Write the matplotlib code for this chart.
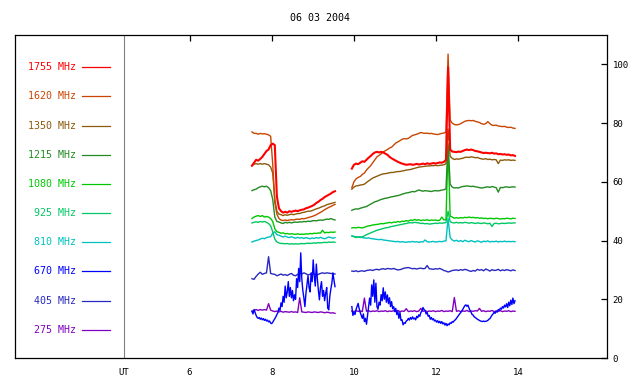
import numpy as np
import matplotlib
matplotlib.use("Agg")
import matplotlib.pyplot as plt

# ---------------- data ----------------
title = "06 03 2004"
freqs = ["1755 MHz", "1620 MHz", "1350 MHz", "1215 MHz", "1080 MHz",
         "925 MHz", "810 MHz", "670 MHz", "405 MHz", "275 MHz"]
colors = ["#ff0000", "#c84600", "#8c5a0a", "#228b22", "#00c800",
          "#00c864", "#00c0c0", "#0000ff", "#2828c0", "#8000c0"]
xtick_vals = [6, 8, 10, 12, 14]
xtick_labels = ["6", "8", "10", "12", "14"]
ytick_vals = [0, 20, 40, 60, 80, 100]

seg1_range = (7.52, 9.54)
seg2_range = (9.95, 13.92)

# segment 1 (about 7.5 - 9.5 UT)
s1 = {
"1755 MHz": [65.5, 66.5, 67.5, 67.2, 67.8, 68.5, 69.5, 70.5, 71, 72.5,
             73, 72.5, 55, 51, 50, 49.5, 49.8, 49.5, 50, 49.8,
             50, 50.2, 50, 50.3, 50.5, 50.6, 51, 51.2, 51.5, 51.8,
             52.2, 52.8, 53.2, 53.8, 54.2, 54.8, 55.2, 55.6, 56, 56.5,
             56.8],
"1620 MHz": [77, 76.5, 76.5, 76.2, 76.5, 76.3, 76.4, 76.2, 76.0, 75.5,
             66, 53, 49, 47.5, 47, 46.8, 47.0, 46.8, 47.0, 47.1,
             47.0, 47.2, 47.3, 47.2, 47.5, 47.4, 47.6, 47.8, 48.0, 48.2,
             48.5, 48.8, 49.2, 49.6, 50.0, 50.5, 50.9, 51.3, 51.6, 52.0,
             52.3],
"1350 MHz": [65.5, 66, 66.2, 66, 66.2, 66, 66.2, 66, 65.8, 65,
             63, 54, 50, 49, 48.8, 48.5, 48.8, 48.6, 48.8, 49,
             48.8, 49, 49.2, 49.2, 49.5, 49.6, 49.8, 50, 50, 50.2,
             50.5, 50.8, 51, 51.3, 51.6, 51.8, 52.2, 52.4, 52.6, 52.8,
             53],
"1215 MHz": [57, 57.3, 57.5, 58, 58.3, 58.5, 58.3, 58.5, 58, 57,
             54, 48, 46.5, 46.3, 46, 45.8, 46.2, 46, 46.2, 46,
             46.2, 46.3, 46.2, 46.4, 46.3, 46.5, 46.4, 46.6, 46.5, 46.7,
             46.8, 46.7, 46.9, 47, 46.9, 47.1, 47.3, 47.2, 47.5, 47.2,
             47],
"1080 MHz": [47.5, 48, 48.3, 48.5, 48.2, 48.5, 48, 48.2, 48, 47.5,
             46.5, 44, 43, 42.8, 42.5, 42.6, 42.3, 42.4, 42.2, 42.3,
             42.2, 42.1, 42.3, 42.1, 42.2, 42.1, 42.3, 42.2, 42.4, 42.3,
             42.5, 42.4, 42.6, 42.5, 43.5, 42.6, 42.8, 42.7, 42.9, 42.8,
             42.9],
"925 MHz": [46, 46.2, 46.4, 46.2, 46.5, 46.3, 46.5, 46.2, 45.8, 45,
            43, 40.5, 39.5, 39.2, 39, 39, 38.9, 39, 38.8, 38.9,
            38.8, 38.9, 38.8, 38.9, 39, 38.9, 39, 39.1, 39, 39.1,
            39.2, 39.1, 39.3, 39.2, 39.3, 39.4, 39.3, 39.5, 39.4, 39.5,
            39.4],
"810 MHz": [39.5, 39.8, 40, 40.2, 40.5, 40.8, 40.6, 41, 41.2, 41.3,
            42.5, 43, 42, 41.8, 41.5, 41.2, 41.5, 41.2, 41, 41.3,
            41, 40.8, 41.1, 40.8, 41, 40.7, 41, 40.8, 40.6, 40.9,
            40.7, 41, 40.8, 41.1, 40.8, 40.6, 40.9, 41.2, 41, 40.8,
            41],
"670 MHz": [16, 15, 16.5, 15.5, 14.5, 13.8, 13.5, 13.8, 13.2, 13.6,
            13, 13.4, 12.8, 13.2, 12.6, 12.9, 12.3, 12.6, 11.9, 11.7,
            12.2, 12.8, 13.4, 14.0, 14.8, 15.5, 17.0, 16.2, 18.8, 17.5,
            21.0, 19.0, 24.5, 20.5, 22.5, 26.0, 21.0, 24.0, 20.5, 23.0,
            19.5, 21.5, 20.0, 27.0, 24.0, 30.5, 26.0, 35.8, 27.0, 23.0,
            20.5, 17.5, 22.0, 25.0, 28.0, 24.0, 22.5, 29.0, 26.0, 33.4,
            28.0, 24.5, 32.0, 27.0, 23.0, 19.8, 24.0, 26.0, 21.0, 23.0,
            19.5, 22.0, 24.0, 17.0, 16.4, 21.0, 23.5, 25.5, 29.0, 26.5,
            24.3],
"405 MHz": [27, 26.8, 27.8, 28.6, 29.2, 28.5, 28.8, 29, 34.5, 28.8,
            28.6, 28.5, 28, 28.3, 28.6, 28.2, 28.4, 28.1, 28.5, 28.8,
            28.2, 28, 28.5, 28.8, 28.6, 29, 28.7, 28.3, 28.5, 28.8,
            28.6, 28.2, 28.5, 28.8, 29, 28.8, 29, 28.9, 28.8, 28.7,
            28.6],
"275 MHz": [15.8, 16.2, 16.5, 16.2, 16.5, 16.3, 16.5, 16.3, 18.5, 16.3,
            16, 15.8, 16, 15.7, 15.9, 15.6, 15.8, 15.7, 15.6, 15.8,
            15.6, 15.7, 15.5, 20.5, 15.7, 15.6, 15.5, 15.7, 15.6, 15.5,
            15.7, 15.6, 15.5, 15.7, 15.6, 15.4, 15.6, 15.5, 15.3, 15.4,
            15.2],
}

# segment 2 (about 10 - 13.9 UT)
s2 = {
"1755 MHz": [64.5, 65.8, 66.2, 66.0, 66.5, 67, 66.8, 67.5, 68.2, 68.8,
             69.5, 70, 70.2, 70, 70.2, 70, 69.6, 69.2, 68.5, 68,
             67.6, 67.2, 66.8, 66.5, 66.2, 66, 65.8, 65.9, 66, 65.8,
             65.9, 66.1, 65.9, 66, 66.2, 66, 66.3, 66.1, 66.2, 66.4,
             66.2, 66.4, 66.6, 66.5, 66.8, 67.5, 99, 71, 70.3, 70.2,
             70.1, 70.3, 70.2, 70.5, 70.8, 71, 70.8, 71, 70.8, 70.5,
             70.4, 70.2, 70, 69.8, 69.9, 69.8, 69.7, 69.9, 69.6, 69.7,
             69.4, 69.5, 69.3, 69.4, 69.2, 69.3, 69.0, 69.1, 68.8],
"1620 MHz": [58, 60, 61, 61.5, 61.8, 62.5, 63, 64, 64.8, 65.5,
             66.5, 67.5, 68.5, 69, 69.5, 70.2, 70.6, 71, 71.5, 71.8,
             72.5, 73.2, 73.6, 74, 74.5, 74.7, 74.6, 74.8, 75.3, 75.8,
             76, 76.2, 76.5, 76.8, 76.6, 76.5, 76.6, 76.4, 76.5, 76.3,
             76.2, 76.1, 76.3, 76.5, 76.6, 77, 103.5, 81, 80, 79.5,
             79.4, 79.5, 79.8, 80.2, 80.6, 80.8, 80.9, 80.8, 80.9, 80.6,
             80.4, 80.2, 79.8, 79.6, 79.8, 80.5, 79.8, 79.3, 79.2, 79.3,
             79.0, 78.9, 78.8, 78.9, 78.6, 78.5, 78.6, 78.3, 78.2],
"1350 MHz": [57.5, 58.2, 58.6, 58.7, 58.9, 59, 59.2, 59.8, 60.3, 60.8,
             61.3, 61.6, 61.9, 62.2, 62.5, 62.7, 62.8, 62.9, 63.1, 63.2,
             63.2, 63.4, 63.5, 63.5, 63.7, 63.8, 64, 64.1, 64.2, 64.4,
             64.6, 64.8, 65, 65.1, 65.2, 65.3, 65.4, 65.4, 65.5, 65.5,
             65.6, 65.5, 65.6, 65.7, 65.8, 66.2, 78, 68.7, 68, 67.6,
             67.8, 67.7, 67.9, 68, 68.3, 68.4, 68.3, 68.5, 68.4, 68.2,
             68.3, 68, 67.8, 67.7, 67.9, 67.6, 67.7, 67.5, 67.6, 67.5,
             66.2, 67.4, 67.3, 67.5, 67.4, 67.5, 67.3, 67.4, 67.3],
"1215 MHz": [50.3, 50.6, 50.8, 50.7, 51, 51.2, 51.4, 51.6, 52, 52.4,
             52.8, 53.2, 53.4, 53.7, 54, 54.2, 54.4, 54.5, 54.7, 54.9,
             55, 55.2, 55.3, 55.5, 55.8, 56, 56.2, 56.3, 56.5, 56.7,
             56.6, 56.9, 57.2, 57, 56.8, 57, 56.9, 56.8, 56.7, 56.9,
             57, 56.9, 57, 57.2, 57.3, 57.6, 73, 59.2, 58.2, 57.9,
             58, 57.9, 58.2, 58.4, 58.5, 58.6, 58.5, 58.4, 58.5, 58.3,
             58.2, 58.0, 57.9, 58.0, 58.2, 58.3, 58.1, 58.4, 58.2, 58.0,
             56.5, 58.1, 58.0, 58.2, 58.3, 58.1, 58.2, 58.3, 58.2],
"1080 MHz": [44.3, 44.4, 44.3, 44.5, 44.4, 44.3, 44.5, 44.8, 45.0, 45.1,
             45.3, 45.4, 45.5, 45.6, 45.8, 45.7, 45.9, 46.0, 46.2, 46.0,
             46.3, 46.2, 46.5, 46.3, 46.6, 46.5, 46.8, 46.6, 47.0, 46.8,
             47.2, 46.9, 47.1, 46.8, 47.0, 46.9, 47.1, 46.8, 47.0, 46.9,
             47.0, 46.8, 46.9, 48.0, 47.0, 47.2, 72, 48.3, 48.0, 47.6,
             47.8, 47.6, 47.8, 47.7, 47.9, 47.8, 48.0, 47.8, 47.9, 47.7,
             47.8, 47.6, 47.7, 47.5, 47.6, 47.4, 47.6, 47.5, 47.4, 47.6,
             47.5, 47.3, 47.5, 47.4, 47.6, 47.5, 47.4, 47.6, 47.5],
"925 MHz": [41.6, 41.3, 41.0, 41.2, 41.0, 41.3, 41.6, 42.0, 42.3, 42.6,
            42.9, 43.2, 43.5, 43.7, 43.9, 44.1, 44.3, 44.4, 44.6, 44.8,
            44.9, 45.1, 45.2, 45.4, 45.5, 45.7, 45.8, 46.0, 46.1, 46.0,
            46.2, 46.1, 46.0, 45.8, 45.9, 45.7, 45.8, 45.6, 45.7, 45.8,
            45.9, 45.8, 46.0, 45.9, 46.0, 46.1, 50, 46.4, 46.1, 46.0,
            46.2, 46.0, 46.1, 46.0, 46.2, 46.1, 45.9, 46.1, 46.0, 45.8,
            46.0, 45.9, 45.8, 46.0, 45.9, 45.7, 45.9, 44.8, 45.8, 45.9,
            45.7, 45.8, 45.9, 45.8, 45.9, 46.0, 45.9, 46.0, 46.0],
"810 MHz": [41.6, 41.4, 41.3, 41.2, 41.3, 41.0, 40.9, 40.8, 40.9, 40.7,
            40.6, 40.5, 40.4, 40.3, 40.4, 40.2, 40.1, 40.0, 39.9, 39.8,
            39.7, 39.6, 39.7, 39.5, 39.6, 39.5, 39.4, 39.6, 39.5, 39.7,
            39.5, 39.6, 39.4, 39.6, 39.5, 40.2, 39.6, 39.5, 39.6, 39.7,
            39.5, 39.6, 39.7, 39.6, 39.8, 39.9, 47.5, 41.0, 40.2, 39.8,
            40.1, 39.7, 40.0, 39.6, 40.1, 39.8, 39.6, 40.0, 39.7, 39.5,
            39.9, 39.7, 39.4, 39.8, 39.6, 39.9, 39.5, 39.7, 39.6, 39.8,
            39.5, 39.7, 39.6, 39.8, 39.6, 39.7, 39.6, 39.7, 39.6],
"670 MHz": [17.5, 14.5, 15.5, 14.8, 16.5, 17.5, 18.6, 16.8, 15.5, 14.5,
            13.5, 15.0, 12.4, 13.5, 11.5, 14.5, 17.5, 20.4, 18.0, 24.9,
            21.0, 26.6, 19.0, 25.5, 17.5, 16.6, 19.0, 18.0, 21.6, 19.5,
            23.9, 20.0, 22.5, 19.0, 21.5, 18.5, 20.5, 17.5, 19.2, 16.8,
            17.5, 15.8, 16.9, 14.8, 15.8, 13.5, 15.5, 12.8, 13.0, 11.3,
            12.0, 11.8, 12.6, 12.8, 13.5, 12.9, 13.8, 13.2, 14.0, 13.3,
            13.6, 13.0, 14.2, 13.7, 14.7, 14.2, 15.5, 16.0, 17.2, 16.5,
            16.2, 15.0, 15.5, 14.2, 14.5, 13.2, 13.8, 13.0, 13.4, 12.6,
            12.9, 12.2, 12.7, 12.0, 12.5, 11.8, 12.4, 11.6, 12.0, 11.2,
            11.8, 11.0, 11.6, 11.3, 12.0, 11.8, 12.4, 12.2, 12.8, 13.0,
            13.5, 14.0, 14.5, 15.0, 15.4, 16.0, 16.5, 17.2, 17.8, 18.1,
            17.6, 18.0, 17.0, 16.2, 15.6, 14.8, 14.6, 14.0, 13.8, 13.5,
            13.2, 13.0, 12.8, 12.6, 12.5, 12.4, 12.6, 12.4, 12.5, 12.6,
            12.8, 13.2, 13.4, 14.0, 14.6, 15.0, 15.6, 15.2, 16.0, 15.6,
            16.5, 16.2, 17.0, 16.6, 17.5, 17.0, 18.0, 17.4, 18.5, 17.2,
            19.0, 17.8, 19.7, 18.2, 20.4, 18.5, 19.5],
"405 MHz": [29.6, 29.5, 29.7, 29.4, 29.6, 29.7, 29.5, 29.8, 29.9, 30.0,
            29.8, 30.1, 30.2, 30.0, 30.3, 30.4, 30.2, 30.5, 30.4, 30.3,
            30.5, 30.2, 30.0, 30.1, 30.3, 30.6, 30.7, 30.8, 30.6, 30.4,
            30.5, 30.3, 30.5, 30.6, 30.4, 30.5, 31.5, 30.4, 30.3, 30.2,
            30.4, 30.3, 30.5, 30.2, 29.8, 29.6, 29.3, 29.5, 29.8, 29.9,
            30.0, 29.8, 30.1, 29.9, 30.2, 30.0, 29.7, 29.5, 29.8, 29.6,
            30.2, 29.9, 30.1, 29.7, 30.3, 30.0, 29.6, 30.1, 29.8, 29.9,
            30.2, 29.7, 30.0, 29.8, 30.1, 29.9, 29.7, 30.0, 29.8],
"275 MHz": [16.0, 15.8, 16.1, 15.9, 16.0, 15.8, 20.4, 15.9, 16.1, 15.8,
            16.0, 15.9, 16.1, 15.8, 16.0, 15.9, 16.1, 15.8, 16.0, 15.9,
            16.1, 15.9, 16.2, 15.8, 16.0, 15.9, 16.8, 15.8, 16.0, 15.9,
            16.1, 15.8, 16.0, 16.9, 15.9, 16.1, 15.8, 16.0, 15.9, 16.1,
            15.8, 16.0, 15.9, 16.2, 15.8, 16.0, 15.9, 16.1, 15.8, 20.6,
            15.9, 16.1, 15.8, 16.0, 15.9, 16.2, 15.8, 16.0, 15.9, 16.1,
            16.0, 16.9, 15.9, 16.1, 15.8, 16.0, 15.9, 16.2, 15.8, 16.0,
            15.9, 16.1, 15.8, 16.0, 15.9, 16.1, 15.8, 16.0, 15.9],
}

# ---------------- figure ----------------
FONT = "DejaVu Sans Mono"
W, H = 640, 384
fig = plt.figure(figsize=(W / 100, H / 100), dpi=100)
L, R, T, B = 15, 607, 35, 358
ax = fig.add_axes([L / W, 1 - B / H, (R - L) / W, (B - T) / H])

px_per_h = 41.1
x6 = 189.5
xmin = 6 + (L - x6) / px_per_h
xmax = 6 + (R - x6) / px_per_h
ax.set_xlim(xmin, xmax)
ax.set_ylim(0, 110)
ut_x = 6 + (124 - x6) / px_per_h

for sp in ax.spines.values():
    sp.set_linewidth(0.9)
    sp.set_color("black")

ax.axvline(ut_x, color="#808080", lw=0.8)

# draw curves: low freq first
for name, col in reversed(list(zip(freqs, colors))):
    for seg, (a, b) in ((s1, seg1_range), (s2, seg2_range)):
        v = np.asarray(seg[name], dtype=float)
        t = np.linspace(a, b, len(v))
        lw = 1.5 if name == "1755 MHz" else 1.0
        ax.plot(t, v, color=col, lw=lw)

# legend inside left panel
xt = 6 + (76 - x6) / px_per_h
xl0 = 6 + (82 - x6) / px_per_h
xl1 = 6 + (110 - x6) / px_per_h
for k, (name, col) in enumerate(zip(freqs, colors)):
    y = 99.0 - 9.93 * k
    ax.text(xt, y, name, ha="right", va="center", color=col,
            fontsize=7.2, family=FONT)
    ax.plot([xl0, xl1], [y, y], color=col, lw=0.9)

# axes ticks
ax.yaxis.tick_right()
ax.set_yticks(ytick_vals)
ax.set_yticklabels([str(v) for v in ytick_vals], fontsize=6.5, family=FONT)
ax.tick_params(axis="y", which="both", direction="in", length=4, width=0.9,
               left=False, right=True, labelleft=False, labelright=True, pad=4)

ax.set_xticks([ut_x] + xtick_vals)
ax.set_xticklabels(["UT"] + xtick_labels, fontsize=6.5, family=FONT)
ax.tick_params(axis="x", which="both", direction="in", length=4, width=0.9,
               bottom=False, top=True, labelbottom=True, labeltop=False, pad=7)
ax.xaxis.get_major_ticks()[0].tick2line.set_visible(False)

fig.text(320 / W, 1 - 18 / H, title, ha="center", va="center",
         fontsize=7.2, family=FONT)

fig.savefig("out.png", dpi=100)
